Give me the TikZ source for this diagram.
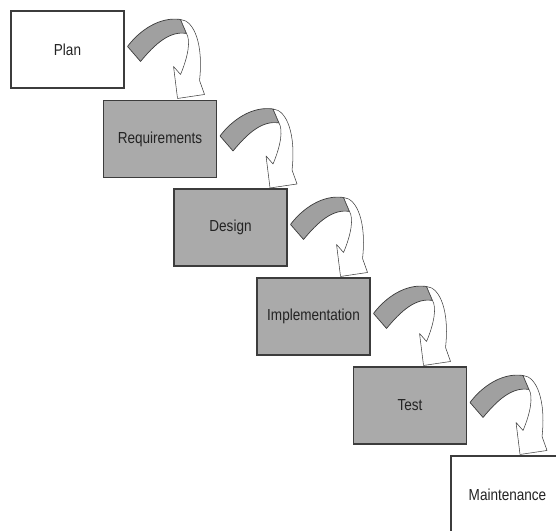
\documentclass[tikz,border=0pt]{standalone}
\usepackage{fontspec}
\setmainfont{Liberation Sans}[FakeStretch=0.85]
\usepackage{tikz}

\definecolor{boxgray}{RGB}{170,170,170}
\definecolor{tailgray}{RGB}{160,160,160}
\definecolor{edgegray}{RGB}{60,60,60}
\definecolor{textgray}{RGB}{35,35,35}

\begin{document}
\begin{tikzpicture}[x=0.03cm, y=-0.03cm,
  stage/.style={draw=edgegray, line width=0.9pt, minimum width=3.39cm,
    minimum height=2.31cm, inner sep=0pt, font=\fontsize{13.6}{15}\selectfont,
    text=textgray},
  tail/.style={draw=edgegray, line width=0.6pt, fill=tailgray, line join=round},
  body/.style={draw=edgegray, line width=0.45pt, fill=white, line join=round}]
%\draw [help lines] (0,0) grid (556,531);
\useasboundingbox (0,0) rectangle (556,531);
\clip (0,0) rectangle (556,531);

\node [stage, fill=white] (plan) at (67.5,49.5) {Plan};
\node [stage, fill=boxgray] (req) at (160,139) {Requirements};
\node [stage, fill=boxgray] (design) at (230.5,227.5) {Design};
\node [stage, fill=boxgray] (impl) at (313.5,316.5) {Implementation};
\node [stage, fill=boxgray] (test) at (410,405.5) {Test};
\node [stage, fill=white] (maint) at (507.5,494.5) {Maintenance};

%  bent arrows:

\draw [tail, shift={(plan.north east)}] (3,36) .. controls (15,20) and (35,6) .. (56,9) -- (62,23) .. controls (45,20) and (30,34) .. (16,51) -- cycle;
\draw [body, shift={(plan.north east)}] (56,9) .. controls (70,10) and (79,35) .. (75,70) -- (80,84) -- (53,88) -- (49,56) -- (56,64) .. controls (64,45) and (66,30) .. (62,23) -- cycle;

\draw [tail, shift={(req.north east)}] (3,36) .. controls (15,20) and (35,6) .. (56,9) -- (62,23) .. controls (45,20) and (30,34) .. (16,51) -- cycle;
\draw [body, shift={(req.north east)}] (56,9) .. controls (70,10) and (79,35) .. (75,70) -- (80,84) -- (53,88) -- (49,56) -- (56,64) .. controls (64,45) and (66,30) .. (62,23) -- cycle;

\draw [tail, shift={(design.north east)}] (3,36) .. controls (15,20) and (35,6) .. (56,9) -- (62,23) .. controls (45,20) and (30,34) .. (16,51) -- cycle;
\draw [body, shift={(design.north east)}] (56,9) .. controls (70,10) and (79,35) .. (75,70) -- (80,84) -- (53,88) -- (49,56) -- (56,64) .. controls (64,45) and (66,30) .. (62,23) -- cycle;

\draw [tail, shift={(impl.north east)}] (3,36) .. controls (15,20) and (35,6) .. (56,9) -- (62,23) .. controls (45,20) and (30,34) .. (16,51) -- cycle;
\draw [body, shift={(impl.north east)}] (56,9) .. controls (70,10) and (79,35) .. (75,70) -- (80,84) -- (53,88) -- (49,56) -- (56,64) .. controls (64,45) and (66,30) .. (62,23) -- cycle;

\draw [tail, shift={(test.north east)}] (3,36) .. controls (15,20) and (35,6) .. (56,9) -- (62,23) .. controls (45,20) and (30,34) .. (16,51) -- cycle;
\draw [body, shift={(test.north east)}] (56,9) .. controls (70,10) and (79,35) .. (75,70) -- (80,84) -- (53,88) -- (49,56) -- (56,64) .. controls (64,45) and (66,30) .. (62,23) -- cycle;

\end{tikzpicture}
\end{document}
